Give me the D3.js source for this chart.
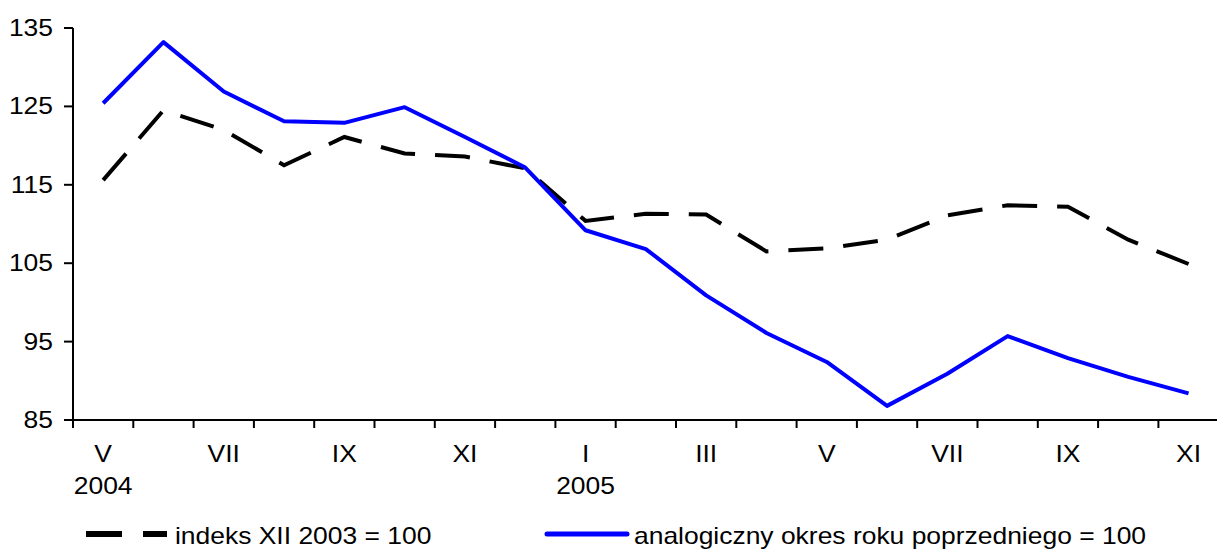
<!DOCTYPE html>
<html>
<head>
<meta charset="utf-8">
<script src="https://cdn.jsdelivr.net/npm/d3@7.9.0/dist/d3.min.js"></script>
<style>
  body { margin: 0; background: #fff; }
  svg { display: block; }
  text { font-family: "Liberation Sans", Arial, sans-serif; fill: #000; }
</style>
</head>
<body>
<svg id="chart"></svg>
<script>
// --- Data ---
const months = ["V", "VI", "VII", "VIII", "IX", "X", "XI", "XII",
  "I", "II", "III", "IV", "V", "VI", "VII", "VIII", "IX", "X", "XI"];
const years = ["2004", "", "", "", "", "", "", "", "2005", "", "", "", "", "", "", "", "", "", ""];
const indeks = [115.6, 124.5, 122.0, 117.5, 121.1, 119.0, 118.6, 117.1,
  110.4, 111.3, 111.2, 106.5, 106.9, 108.0, 111.1, 112.4, 112.2, 108.0, 104.9];
const analog = [125.4, 133.2, 126.9, 123.1, 122.9, 124.9, 121.1, 117.2,
  109.2, 106.8, 100.9, 96.1, 92.4, 86.8, 90.9, 95.7, 92.9, 90.5, 88.4];
const yTicks = [85, 95, 105, 115, 125, 135];

const width = 1217;
const height = 550;
const fontSize = 23;
const stretch = 1.15;

const svg = d3.select("#chart").attr("width", width).attr("height", height);

// --- Scales ---
const x = d3.scaleBand()
  .domain(d3.range(months.length))
  .range([73, 73 + months.length * 60.3]);
const y = d3.scaleLinear().domain([85, 135]).range([420, 28]);
const cx = i => x(i) + x.bandwidth() / 2;

// stretched text helper
function label(g, tx, ty, str, anchor) {
  g.append("text")
    .attr("transform", `translate(${tx},${ty}) scale(${stretch},1)`)
    .attr("text-anchor", anchor)
    .attr("font-size", fontSize)
    .text(str);
}

// --- Y axis ---
const yAxis = svg.append("g");
yAxis.append("line")
  .attr("x1", 73).attr("x2", 73)
  .attr("y1", y(135)).attr("y2", y(85))
  .attr("stroke", "#000").attr("stroke-width", 2);
yTicks.forEach(t => {
  yAxis.append("line")
    .attr("x1", 64).attr("x2", 73)
    .attr("y1", y(t)).attr("y2", y(t))
    .attr("stroke", "#000").attr("stroke-width", 2);
  label(yAxis, 53, y(t) + 8, t, "end");
});

// --- X axis ---
const xAxis = svg.append("g");
xAxis.append("line")
  .attr("x1", 72).attr("x2", width)
  .attr("y1", y(85)).attr("y2", y(85))
  .attr("stroke", "#000").attr("stroke-width", 2);
months.forEach((m, i) => {
  xAxis.append("line")
    .attr("x1", x(i)).attr("x2", x(i))
    .attr("y1", y(85)).attr("y2", y(85) + 8)
    .attr("stroke", "#000").attr("stroke-width", 2);
  if (i % 2 === 0) label(xAxis, cx(i), 462, m, "middle");
  if (years[i]) label(xAxis, cx(i), 494, years[i], "middle");
});

// --- Lines ---
const line = d3.line().x((d, i) => cx(i)).y(d => y(d));

svg.append("path")
  .datum(indeks)
  .attr("d", line)
  .attr("fill", "none")
  .attr("stroke", "#000")
  .attr("stroke-width", 4)
  .attr("stroke-dasharray", "35,20");

svg.append("path")
  .datum(analog)
  .attr("d", line)
  .attr("fill", "none")
  .attr("stroke", "#0000ff")
  .attr("stroke-width", 4)
  .attr("stroke-linejoin", "round");

// --- Legend ---
const legend = svg.append("g");
legend.append("line")
  .attr("x1", 86).attr("x2", 167)
  .attr("y1", 534).attr("y2", 534)
  .attr("stroke", "#000").attr("stroke-width", 6)
  .attr("stroke-dasharray", "36,21");
label(legend, 175, 544, "indeks XII 2003 = 100", "start");

legend.append("line")
  .attr("x1", 547).attr("x2", 627)
  .attr("y1", 534).attr("y2", 534)
  .attr("stroke", "#0000ff").attr("stroke-width", 5)
  .attr("stroke-linecap", "round");
label(legend, 634, 544, "analogiczny okres roku poprzedniego = 100", "start");
</script>
</body>
</html>
